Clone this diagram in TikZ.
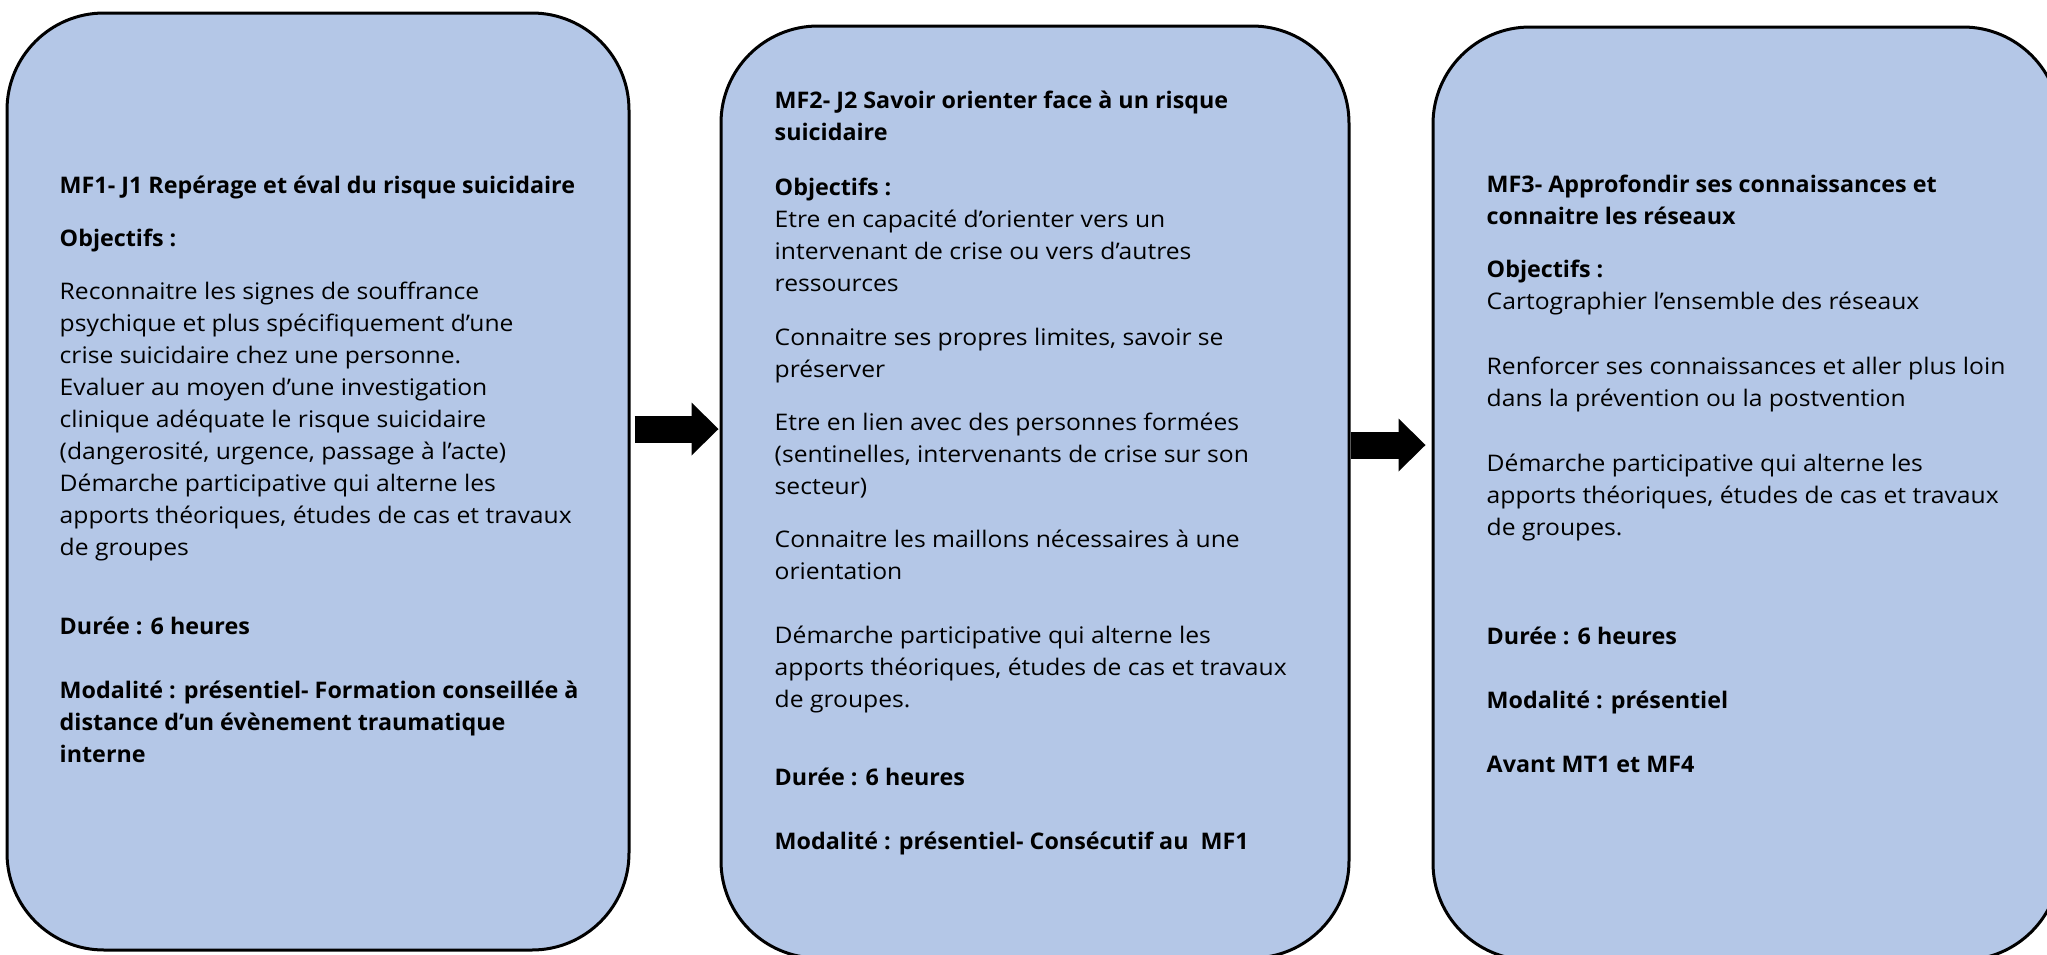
\documentclass[tikz,border=0pt]{standalone}
\usepackage{fontspec}
\setmainfont{Open Sans}[UprightFeatures={FakeStretch=1.08}, BoldFeatures={FakeStretch=1.02}]
\usepackage{xcolor}
\usetikzlibrary{arrows.meta}
\definecolor{ModBlue}{HTML}{B4C7E7}

\newcommand{\firstline}{\rule{0pt}{2.2mm}}

\begin{document}
\begin{tikzpicture}[x=0.1mm, y=-0.1mm,
    module/.style={draw, line width=0.3mm, fill=ModBlue, rounded corners=9.7mm, inner sep=0pt},
    modtext/.style={anchor=north west, align=left, inner sep=0pt, font=\fontsize{6.5}{9.1}\selectfont},
    blockarrow/.style={line width=2.7mm, -{Triangle[length=2.7mm, width=5.3mm, line width=0pt]}}]
    \useasboundingbox (0,0) rectangle (2047,954);
    \clip (0,0) rectangle (2047,954);

    %Module boxes
    \node[module, minimum width=62.2mm, minimum height=93.7mm] (b1) at (318,481.5) {};
    \node[module, minimum width=62.8mm, minimum height=93.2mm] (b2) at (1035,492) {};
    \node[module, minimum width=62.7mm, minimum height=93.3mm] (b3) at (1746.5,493.5) {};

    %Arrows between the boxes
    \coordinate (y1) at (0,429);
    \coordinate (y2) at (0,445);
    \draw[blockarrow, shorten <=0.4mm, shorten >=0.1mm] (b1.east |- y1) -- (b2.west |- y1);
    \draw[blockarrow, shorten >=0.6mm] (b2.east |- y2) -- (b3.west |- y2);

    %Text of MF1
    \node[modtext] (t1) at (59,171) {\firstline\textbf{MF1- J1 Repérage et éval du risque suicidaire}\\[2.1mm]
        \textbf{Objectifs :}\\[2.1mm]
        Reconnaitre les signes de souffrance\\
        psychique et plus spécifiquement d’une\\
        crise suicidaire chez une personne.\\
        Evaluer au moyen d’une investigation\\
        clinique adéquate le risque suicidaire\\
        (dangerosité, urgence, passage à l’acte)\\
        Démarche participative qui alterne les\\
        apports théoriques, études de cas et travaux\\
        de groupes\\[4.7mm]
        \textbf{Durée : 6 heures}\\[3.2mm]
        \textbf{Modalité : présentiel- Formation conseillée à}\\
        \textbf{distance d’un évènement traumatique}\\
        \textbf{interne}};

    %Text of MF2
    \node[modtext] (t2) at (774,86) {\firstline\textbf{MF2- J2 Savoir orienter face à un risque}\\
        \textbf{suicidaire}\\[2.3mm]
        \textbf{Objectifs :}\\
        Etre en capacité d’orienter vers un\\
        intervenant de crise ou vers d’autres\\
        ressources\\[2.2mm]
        Connaitre ses propres limites, savoir se\\
        préserver\\[2.1mm]
        Etre en lien avec des personnes formées\\
        (sentinelles, intervenants de crise sur son\\
        secteur)\\[2.1mm]
        Connaitre les maillons nécessaires à une\\
        orientation\\[3.2mm]
        Démarche participative qui alterne les\\
        apports théoriques, études de cas et travaux\\
        de groupes.\\[4.6mm]
        \textbf{Durée : 6 heures}\\[3.2mm]
        \textbf{Modalité : présentiel- Consécutif au\ \ MF1}};

    %Text of MF3
    \node[modtext] (t3) at (1486,170) {\firstline\textbf{MF3- Approfondir ses connaissances et}\\
        \textbf{connaitre les réseaux}\\[2.1mm]
        \textbf{Objectifs :}\\
        Cartographier l’ensemble des réseaux\\[3.3mm]
        Renforcer ses connaissances et aller plus loin\\
        dans la prévention ou la postvention\\[3.3mm]
        Démarche participative qui alterne les\\
        apports théoriques, études de cas et travaux\\
        de groupes.\\[7.7mm]
        \textbf{Durée : 6 heures}\\[3.2mm]
        \textbf{Modalité : présentiel}\\[3.2mm]
        \textbf{Avant MT1 et MF4}};
\end{tikzpicture}
\end{document}
